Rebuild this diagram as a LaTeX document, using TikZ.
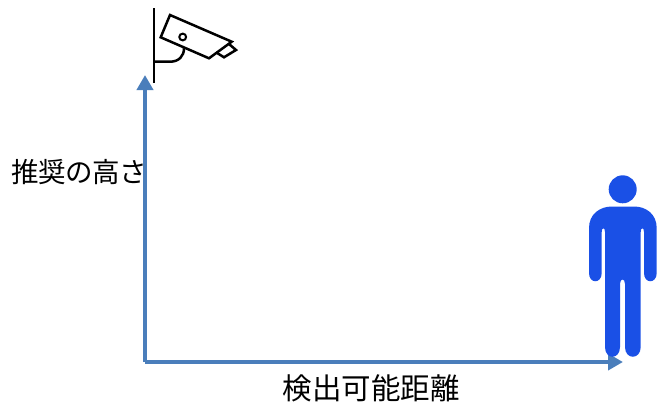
\documentclass[tikz,border=0pt]{standalone}
\usepackage{fontspec}
\newfontfamily\cjk[RawFeature=+palt]{Noto Sans CJK JP}
\usetikzlibrary{arrows.meta}
\definecolor{axisblue}{HTML}{4A7EBB}
\definecolor{personblue}{HTML}{1A50E6}
\tikzset{
  axis/.style={draw=axisblue,line width=3.8pt,-{Triangle[length=15pt,width=16pt]}},
  cam/.style={draw=black,line width=2.5pt,line join=miter},
  lbl/.style={inner sep=0pt,text=black},
  lblh/.style={lbl,font=\cjk\fontsize{27.5}{30}\selectfont},
  lbld/.style={lbl,font=\cjk\fontsize{29.5}{30}\selectfont}
}
\begin{document}
\begin{tikzpicture}[x=1pt,y=-1pt]
\useasboundingbox (0,0) rectangle (657,402);
\coordinate (origin) at (145,362);
\coordinate (top) at (145,75);
\coordinate (right) at (623,362);
\draw[axis] (origin) -- (top);
\draw[axis] (origin) -- (right);
% camera
\draw[cam] (154,8) -- (154,83);
\draw[cam] (170,15) -- (231.7,41.7) -- (209,58.3) -- (160.7,37.3) -- cycle;
\draw[cam] (216,52.3) -- (224,57.3) -- (236,50) -- (229,44);
\draw[cam,line width=2pt] (182.7,37) circle (3.4);
\draw[cam] (154,61.7) -- (170,61.7) .. controls (179,61.7) and (184,56) .. (184,48.3);
% person
\fill[personblue] (622.7,189.3) circle (14);
\fill[personblue]
  (589,228) .. controls (589,214) and (600,206.5) .. (612,206.5)
  -- (634,206.5) .. controls (646,206.5) and (656.7,214) .. (656.7,228)
  -- (656.7,273) .. controls (656.7,284) and (644,284) .. (644,273)
  -- (644,232) .. controls (644,227) and (640.7,227) .. (640.7,232)
  -- (640.7,347) .. controls (640.7,360) and (625,360) .. (625,347)
  -- (625,284) .. controls (625,278) and (620,278) .. (620,284)
  -- (620,347) .. controls (620,360) and (605,360) .. (605,347)
  -- (605,232) .. controls (605,227) and (601.7,227) .. (601.7,232)
  -- (601.7,273) .. controls (601.7,284) and (589,284) .. (589,273)
  -- cycle;
% labels
\node[lblh,anchor=west] (height) at (11,172) {推奨の高さ};
\node[lbld,anchor=center] (dist) at (371,388) {検出可能距離};
\end{tikzpicture}
\end{document}
